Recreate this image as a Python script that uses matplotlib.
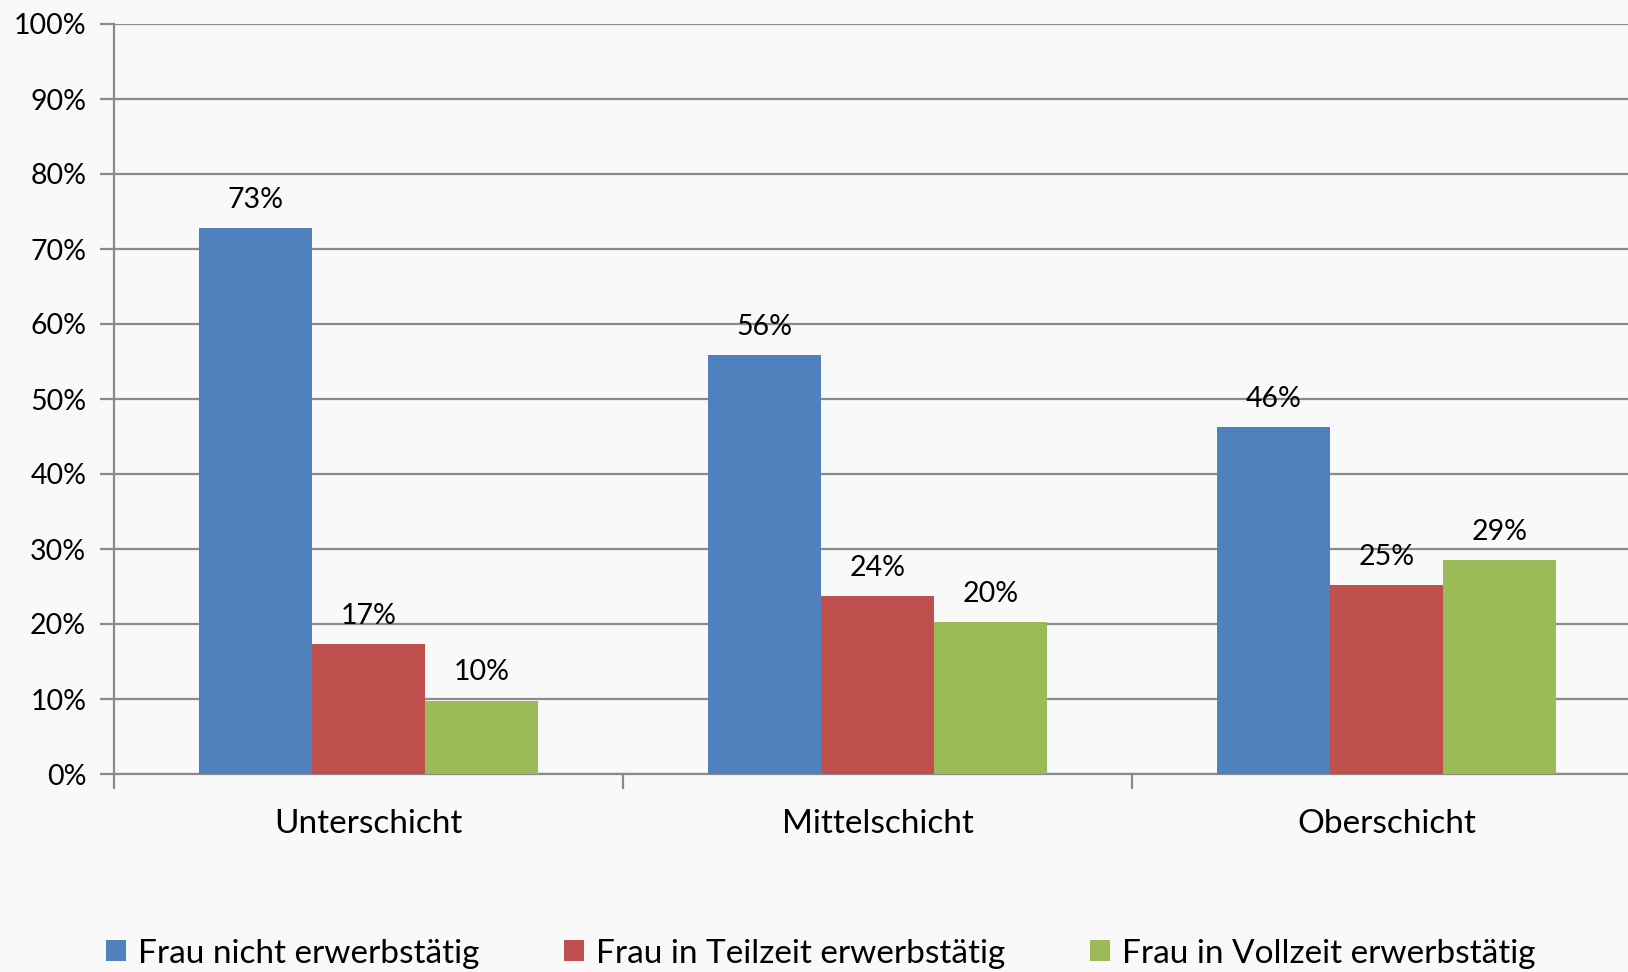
import matplotlib
matplotlib.use('agg')
import matplotlib.pyplot as plt
from matplotlib.patches import Patch
import numpy as np

plt.rcParams['font.family'] = ['Lato', 'DejaVu Sans']

# Daten
schichten = ['Unterschicht', 'Mittelschicht', 'Oberschicht']
serien = ['Frau nicht erwerbstätig', 'Frau in Teilzeit erwerbstätig',
          'Frau in Vollzeit erwerbstätig']
nicht_erwerbstaetig = [72.8, 55.9, 46.3]
teilzeit = [17.4, 23.7, 25.2]
vollzeit = [9.8, 20.3, 28.6]
farben = ['#4F81BD', '#C0504D', '#9BBB59']
y_ticks = [0, 10, 20, 30, 40, 50, 60, 70, 80, 90, 100]

bg = '#f9f9f9'
grid_col = '#8a8a8a'

fig = plt.figure(figsize=(16.28, 9.72), dpi=100, facecolor=bg)
# rechter Rand der Achse liegt leicht ausserhalb des Bildes (wie im Original)
ax = fig.add_axes([114 / 1628, 1 - 774 / 972, 1527 / 1628, 750 / 972])
ax.set_facecolor(bg)

x = np.arange(len(schichten))
bw = 1 / 4.5
werte = [nicht_erwerbstaetig, teilzeit, vollzeit]
for i, (vals, col, name) in enumerate(zip(werte, farben, serien)):
    pos = x + (i - 1) * bw
    bars = ax.bar(pos, vals, bw, color=col, label=name, zorder=3,
                  edgecolor='none')
    for b, v in zip(bars, vals):
        ax.text(b.get_x() + b.get_width() / 2, v + 2.0, '{:.0f}%'.format(v),
                ha='center', va='bottom', fontsize=20.5, color='black')

ax.set_xlim(-0.5, 2.5)
ax.set_ylim(0, 100)
ax.set_yticks(y_ticks)
ax.set_yticklabels(['{}%'.format(t) for t in y_ticks], fontsize=20.5)
ax.yaxis.grid(True, color=grid_col, lw=1.6, zorder=0)
ax.tick_params(axis='y', length=10, width=1.6, color=grid_col, pad=10)

# Kategorien-Beschriftung mittig, Teilstriche an den Grenzen
ax.set_xticks([-0.5, 0.5, 1.5, 2.5])
ax.set_xticklabels([])
ax.set_xticks(x, minor=True)
ax.set_xticklabels(schichten, minor=True, fontsize=24)
ax.tick_params(axis='x', which='major', length=11, width=1.6, color=grid_col)
ax.tick_params(axis='x', which='minor', length=0, pad=25)

for s in ['top', 'right']:
    ax.spines[s].set_visible(False)
for s in ['left', 'bottom']:
    ax.spines[s].set_color(grid_col)
    ax.spines[s].set_linewidth(1.6)

handles = [Patch(facecolor=c, edgecolor='none') for c in farben]
fig.legend(handles, serien, loc='center', bbox_to_anchor=(0.504, 0.019),
           ncol=3, frameon=False, fontsize=24, handlelength=0.6,
           handleheight=0.6, handletextpad=0.35, columnspacing=2.55)

fig.savefig('out.png', dpi=100, facecolor=bg)
